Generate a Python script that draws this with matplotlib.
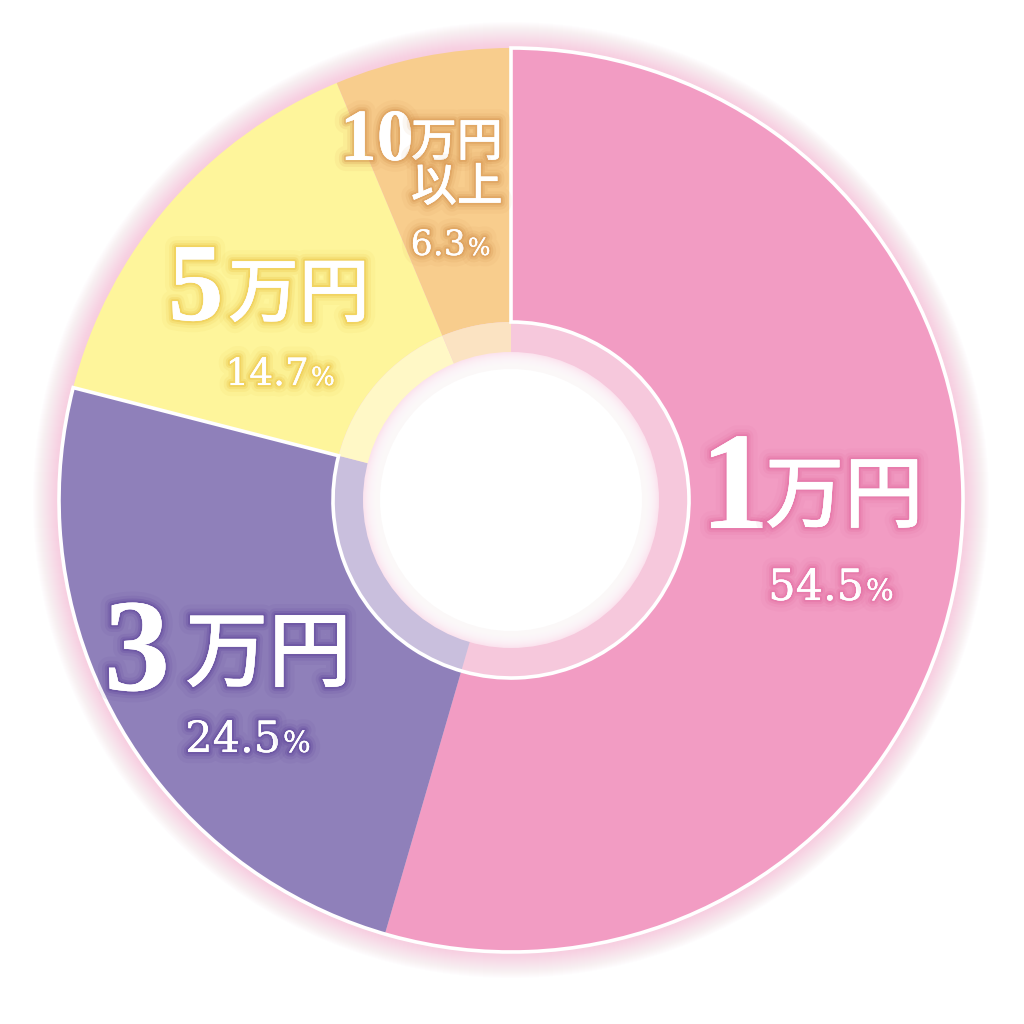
import numpy as np
import matplotlib
matplotlib.use('Agg')
import matplotlib.pyplot as plt
from matplotlib.patches import Circle, Wedge
import matplotlib.patheffects as pe

# データ
labels = ['1万円', '3万円', '5万円', '10万円以上']
shares = [54.5, 24.5, 14.7, 6.3]
colors = ['#F29CC3', '#8F80BA', '#FEF59B', '#F8CD8D']
band_colors = ['#F6C8DC', '#C9BFDD', '#FFF8C6', '#FBE3C2']
glow_colors = ['#E2689F', '#5A3F98', '#EBBE3A', '#D48F4A']

W = 1024
cx, cy = 511, W - 500
R_OUT, R_IN, R_HOLE = 452, 178, 148

fig = plt.figure(figsize=(10.24, 10.24), dpi=100)
ax = fig.add_axes([0, 0, 1, 1])

# 外側のぼんやりした光
for k in range(26, 0, -1):
    ax.add_patch(Circle((cx, cy), R_OUT + k, color='#F7A8CA', alpha=0.022, lw=0, zorder=0))

wedges, _ = ax.pie(shares, colors=colors, startangle=90, counterclock=False,
                   center=(cx, cy), radius=R_OUT, frame=True,
                   wedgeprops=dict(width=R_OUT - R_IN, linewidth=0))
for w in wedges:
    w.set_zorder(2)

band, _ = ax.pie(shares, colors=band_colors, startangle=90, counterclock=False,
                 center=(cx, cy), radius=R_IN, frame=True,
                 wedgeprops=dict(width=R_IN - R_HOLE + 2, linewidth=0))
for w in band:
    w.set_zorder(2)

# 中央の白い円 (ふちにピンクのぼかし)
ax.add_patch(Circle((cx, cy), R_HOLE, color='#FBE3EE', lw=0, zorder=3))
for k in range(16):
    ax.add_patch(Circle((cx, cy), R_HOLE - 1 - k, color='white', alpha=0.14, lw=0, zorder=3))
ax.add_patch(Circle((cx, cy), R_HOLE - 17, color='white', lw=0, zorder=3))

# 1万円+3万円 の白いふち
ax.add_patch(Wedge((cx, cy), R_OUT, wedges[1].theta1, wedges[0].theta2,
                   width=R_OUT - R_IN, fill=False, edgecolor='white', lw=2.6, zorder=4))

ax.set_xlim(0, W)
ax.set_ylim(0, W)
ax.set_aspect('equal')
ax.axis('off')

jp = ['Noto Sans CJK JP', 'DejaVu Sans']


def glow(c):
    return [pe.withStroke(linewidth=16, foreground=c, alpha=0.07),
            pe.withStroke(linewidth=10, foreground=c, alpha=0.12),
            pe.withStroke(linewidth=6, foreground=c, alpha=0.22),
            pe.withStroke(linewidth=3, foreground=c, alpha=0.35),
            pe.Normal()]


def put(x, y, s, size, c, family='DejaVu Serif', weight='normal', ha='left'):
    ax.text(x, W - y, s, fontsize=size, color='white', family=family, weight=weight,
            ha=ha, va='baseline', path_effects=glow(c), zorder=6)


big = 'Liberation Serif'

# 1万円
put(700, 528, '1', 100, glow_colors[0], family=big, weight='bold')
put(765, 521, '万円', 57, glow_colors[0], family=jp, weight='medium')
put(864, 600, '54.5', 31, glow_colors[0], ha='right')
put(866, 600, '%', 21, glow_colors[0])

# 3万円
put(104, 690, '3', 95, glow_colors[1], family=big, weight='bold')
put(185, 680, '万円', 60, glow_colors[1], family=jp, weight='medium')
put(281, 752, '24.5', 31, glow_colors[1], ha='right')
put(283, 752, '%', 21, glow_colors[1])

# 5万円
put(168, 320, '5', 80, glow_colors[2], family=big, weight='bold')
put(228, 316, '万円', 51, glow_colors[2], family=jp, weight='medium')
put(309, 385, '14.7', 27, glow_colors[2], ha='right')
put(311, 385, '%', 18, glow_colors[2])

# 10万円以上
put(340, 160, '10', 53, glow_colors[3], family=big, weight='bold')
put(411, 156, '万円', 33, glow_colors[3], family=jp, weight='medium')
put(411, 201, '以上', 33, glow_colors[3], family=jp, weight='medium')
put(466, 255, '6.3', 25, glow_colors[3], ha='right')
put(468, 255, '%', 17, glow_colors[3])

fig.savefig('out.png', dpi=100, facecolor='white')
